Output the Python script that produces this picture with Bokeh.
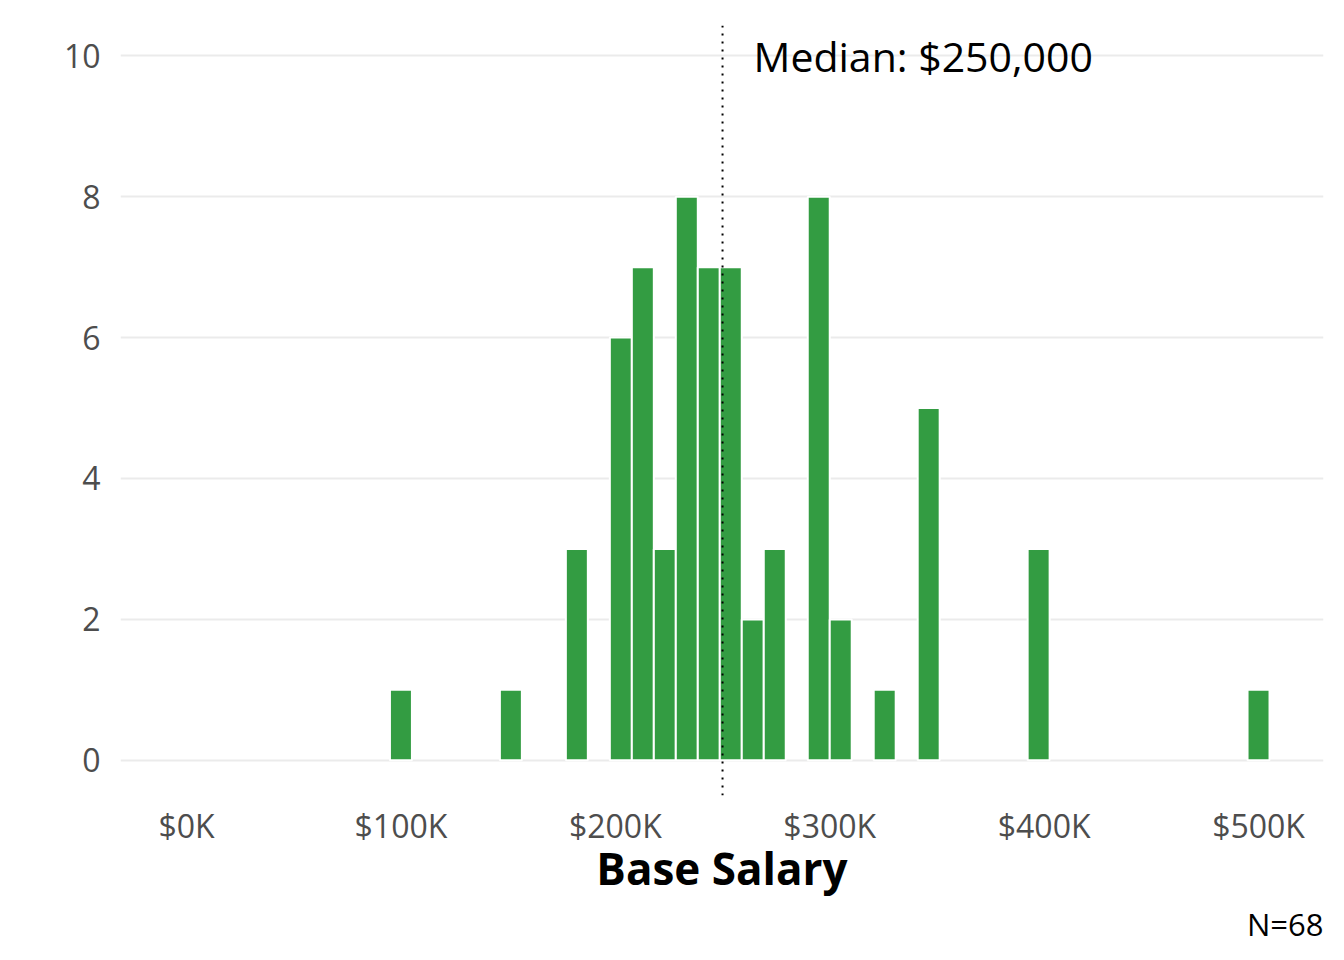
from bokeh.plotting import figure
from bokeh.models import Range1d, FixedTicker, Span, Label, Title, ColumnDataSource
from bokeh.embed import file_html
from bokeh.resources import INLINE

# Histogram bins (centers in dollars) and counts
bin_centers = [100000, 151282, 182051, 202564, 212821, 223077, 233333, 243590,
               253846, 264103, 274359, 294872, 305128, 325641, 346154, 397436, 500000]
counts = [1, 1, 3, 6, 7, 3, 8, 7, 7, 2, 3, 8, 2, 1, 5, 3, 1]
bin_width = 10256

x_ticks = [0, 100000, 200000, 300000, 400000, 500000]
x_tick_labels = ["$0K", "$100K", "$200K", "$300K", "$400K", "$500K"]
y_ticks = [0, 2, 4, 6, 8, 10]

median_value = 250000
median_text = "Median: $250,000"
n_text = "N=68"

FONT = "Open Sans"
GREEN = "#339c42"

src = ColumnDataSource(dict(
    left=[c - bin_width / 2 for c in bin_centers],
    right=[c + bin_width / 2 for c in bin_centers],
    top=counts,
    bottom=[0] * len(counts),
))

p = figure(width=1336, height=952, output_backend="svg", toolbar_location=None,
           x_range=Range1d(-30800, 530300), y_range=Range1d(-0.5, 10.43),
           min_border_left=120, min_border_top=25, min_border_right=13,
           min_border_bottom=157)
p.outline_line_color = None
p.background_fill_color = "white"
p.border_fill_color = "white"

p.xgrid.grid_line_color = None
p.ygrid.grid_line_color = "#ebebeb"
p.ygrid.grid_line_width = 2
p.yaxis.ticker = FixedTicker(ticks=y_ticks)
p.xaxis.ticker = FixedTicker(ticks=x_ticks)
p.xaxis.major_label_overrides = {t: l for t, l in zip(x_ticks, x_tick_labels)}

for ax in (p.xaxis[0], p.yaxis[0]):
    ax.axis_line_color = None
    ax.major_tick_line_color = None
    ax.minor_tick_line_color = None
    ax.major_label_text_font = FONT
    ax.major_label_text_font_size = "32px"
    ax.major_label_text_color = "#4d4d4d"

p.yaxis.major_label_standoff = 14
p.xaxis.major_label_standoff = 2
p.xaxis.axis_label = "Base Salary"
p.xaxis.axis_label_text_font = FONT
p.xaxis.axis_label_text_font_style = "bold"
p.xaxis.axis_label_text_font_size = "44px"
p.xaxis.axis_label_text_color = "black"
p.xaxis.axis_label_standoff = -12

p.quad(left="left", right="right", top="top", bottom="bottom", source=src,
       fill_color=GREEN, line_color="white", line_width=2)

p.add_layout(Span(location=median_value, dimension="height", line_color="black",
                  line_width=2, line_dash="2 6"))

p.add_layout(Label(x=median_value, y=9.99, x_offset=31, text=median_text,
                   text_font=FONT, text_font_size="41px", text_color="black",
                   text_baseline="alphabetic"))

p.add_layout(Title(text=n_text, align="right", text_font=FONT,
                   text_font_size="31px", text_font_style="normal",
                   text_color="black", standoff=0), "below")

open("out.html", "w").write(file_html(p, INLINE))
